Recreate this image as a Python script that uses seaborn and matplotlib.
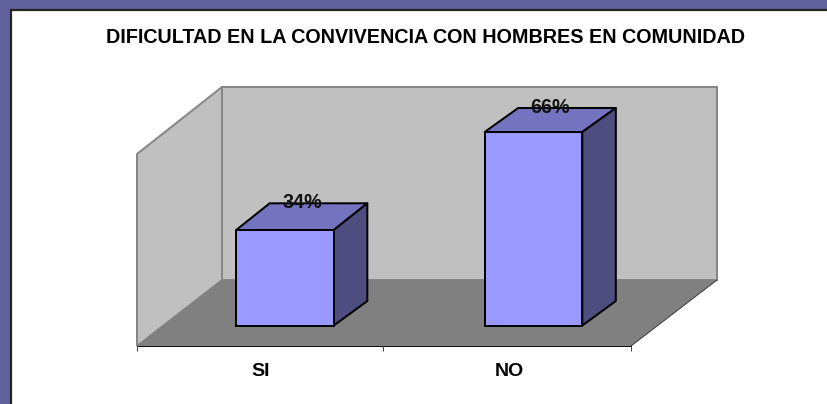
import matplotlib
matplotlib.use("Agg")
import matplotlib.pyplot as plt
from matplotlib.patches import Polygon, Rectangle
import seaborn as sns
import pandas as pd

# ---- data ----
categories = ["SI", "NO"]
percentages = [34, 66]
chart_title = "DIFICULTAD EN LA CONVIVENCIA CON HOMBRES EN COMUNIDAD"

# ---- style ----
W, H = 827, 404
PURPLE, DARK = "#60609A", "#232323"
WALL, FLOOR, WALL_EDGE = "#C0C0C0", "#808080", "#868686"
FRONT, TOP, SIDE = "#9999FF", "#7373BF", "#4D4D80"
DEPTH_X, DEPTH_Y_BASE = 33.5, 24.5
DEPTH_Y_TOP = [26.7, 24.0]
px = 72 / 100  # points per pixel at dpi 100
BAR_LW = 2.0 * px

sns.set_theme(style="white")
plt.rcParams["font.family"] = ["Liberation Sans", "DejaVu Sans"]
fig = plt.figure(figsize=(W / 100, H / 100), dpi=100, facecolor=PURPLE)

# ---- backdrop in pixel coordinates: panel, walls, floor, category axis ----
bg = fig.add_axes([0, 0, 1, 1], zorder=1)
bg.set_xlim(0, W)
bg.set_ylim(H, 0)
bg.patch.set_visible(False)
bg.set_axisbelow(False)
bg.add_patch(Rectangle((11, 10), W, H, fc="white", ec=DARK, lw=2.2 * px))
bg.add_patch(Polygon([(137, 154), (222, 87), (222, 280), (137, 346)], fc=WALL, ec=WALL_EDGE, lw=2.0 * px))
bg.add_patch(Rectangle((222, 87), 495, 193, fc=WALL, ec=WALL_EDGE, lw=2.0 * px))
bg.add_patch(Polygon([(137, 346), (631, 346), (717, 280), (222, 280)], fc=FLOOR, ec="none"))
bg.plot([631, 717], [346, 280], color="#303030", lw=0.9 * px)

for name, spine in bg.spines.items():
    spine.set_visible(name == "bottom")
bg.spines["bottom"].set_position(("data", 346))
bg.spines["bottom"].set_bounds(137, 631)
bg.spines["bottom"].set_color("#111111")
bg.spines["bottom"].set_linewidth(1.0 * px)
bg.set_yticks([])
bg.set_xticks([261, 509], labels=categories, fontsize=19.5 * px, fontweight="bold", color="black")
bg.set_xticks([137, 383, 631], minor=True)
bg.tick_params(axis="x", which="major", length=0, pad=17 * px)
bg.tick_params(axis="x", which="minor", bottom=True, length=5 * px, width=1.0 * px, color="#444444")
bg.text(426, 37.5, chart_title, ha="center", va="center", fontsize=19.75 * px, fontweight="bold", color="black")

# ---- bars: front faces through seaborn, value axis truncated at the bar base ----
left, right = 285 - 124.25, 533.5 + 124.25
base_y, top_y = 325.5, 87
ax = fig.add_axes([left / W, 1 - base_y / H, (right - left) / W, (base_y - top_y) / H], zorder=2)
ax.patch.set_visible(False)
df = pd.DataFrame({"categoria": categories, "porcentaje": percentages})
sns.barplot(data=df, x="categoria", y="porcentaje", color=FRONT, saturation=1, width=0.393,
            edgecolor="black", linewidth=BAR_LW, ax=ax)
value_floor, value_ceil = 2.82, 80.69
ax.set_ylim(value_floor, value_ceil)
ax.set_xlim(-0.5, 1.5)
ax.set_axis_off()

to_bg = ax.transData + bg.transData.inverted()
for i, (patch, value) in enumerate(zip(ax.patches, percentages)):
    patch.set_y(value_floor)
    patch.set_height(value - value_floor)
    patch.set_clip_on(False)
    x0, x1 = patch.get_x(), patch.get_x() + patch.get_width()
    (l, t), (r, b) = to_bg.transform([(x0, value), (x1, value_floor)])
    dx, dt, db = DEPTH_X, -DEPTH_Y_TOP[i], -DEPTH_Y_BASE
    bg.add_patch(Polygon([(l, t), (r, t), (r + dx, t + dt), (l + dx, t + dt)], fc=TOP, ec="black", lw=BAR_LW, joinstyle="round"))
    bg.add_patch(Polygon([(r, t), (r + dx, t + dt), (r + dx, b + db), (r, b)], fc=SIDE, ec="black", lw=BAR_LW, joinstyle="round"))
    ax.annotate(f"{value}%", xy=(i, value), xytext=(17 * px, (DEPTH_Y_TOP[i] + 0.5) * px), textcoords="offset points",
                ha="center", va="center", fontsize=19.8 * px, fontweight="bold", color="#111111",
                annotation_clip=False)

fig.savefig("out.png", dpi=100, facecolor=PURPLE)
